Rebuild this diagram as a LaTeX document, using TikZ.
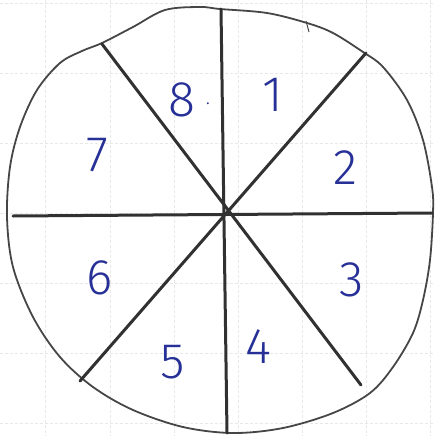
\documentclass[tikz,border=0pt]{standalone}
\usepackage{fontspec}
\usepackage{xcolor}
\usepackage{tikz}
\usetikzlibrary{calc}
\newfontfamily\digitfont{Fira Sans Light}
\definecolor{ink}{RGB}{38,48,150}
\definecolor{pencil}{RGB}{70,70,70}

\begin{document}
\begin{tikzpicture}[
x=1pt,
y=-1pt,
every node/.style={font=\digitfont\fontsize{50}{50}\selectfont},
num/.style={text=ink,inner sep=0pt},
spoke/.style={draw=pencil!70!black,line width=3pt,line cap=round},
rim/.style={draw=pencil,line width=1.8pt},
paper/.style={draw=gray!18,densely dashed,line width=0.6pt}
]
\useasboundingbox (0,0) rectangle (435,436);
% graph paper
\foreach \gx in {45,110,174,238,302,366,430} \draw[paper] (\gx,0) -- (\gx,436);
\foreach \gy in {3,73,143,213,283,353,423} \draw[paper] (0,\gy) -- (435,\gy);
% hand drawn rim
\draw[rim] plot[smooth cycle,tension=0.55] coordinates {
(102,43) (133,27) (165,10) (200,7) (220,9) (267,13) (307,23) (333,33)
(363,52) (383,67) (407,100) (423,140) (432,187) (433,213) (430,260)
(423,300) (413,333) (393,367) (370,393) (333,413) (283,428) (233,433)
(183,427) (133,410) (93,387) (60,357) (33,317) (13,267) (7,217)
(10,167) (20,127) (37,90) (60,63) (82,51)};
\draw[rim,line width=1pt] (306,21) -- (309,32);
% spoke ends
\coordinate (n) at (221,9);
\coordinate (s) at (227,433);
\coordinate (w) at (13,216);
\coordinate (e) at (432,213);
\coordinate (nw) at (102,44);
\coordinate (se) at (361,385);
\coordinate (sw) at (80,381);
\coordinate (ne) at (366,53);
\draw[spoke] (n) -- (s);
\draw[spoke] (w) -- (e);
\draw[spoke] (nw) -- (se);
\draw[spoke] (sw) -- (ne);
% sector numbers
\node[num] (one) at (273,95) {1};
\node[num] (two) at (345,168) {2};
\node[num] (three) at (352,280) {3};
\node[num] (four) at (258,347) {4};
\node[num] (five) at (173,362) {5};
\node[num] (six) at (100,278) {6};
\node[num] (seven) at (97,155) {7};
\node[num] (eight) at (182,100) {8};
\node[num,font=\digitfont\fontsize{20}{20}\selectfont] (dot) at (208,104) {.};
\end{tikzpicture}
\end{document}
